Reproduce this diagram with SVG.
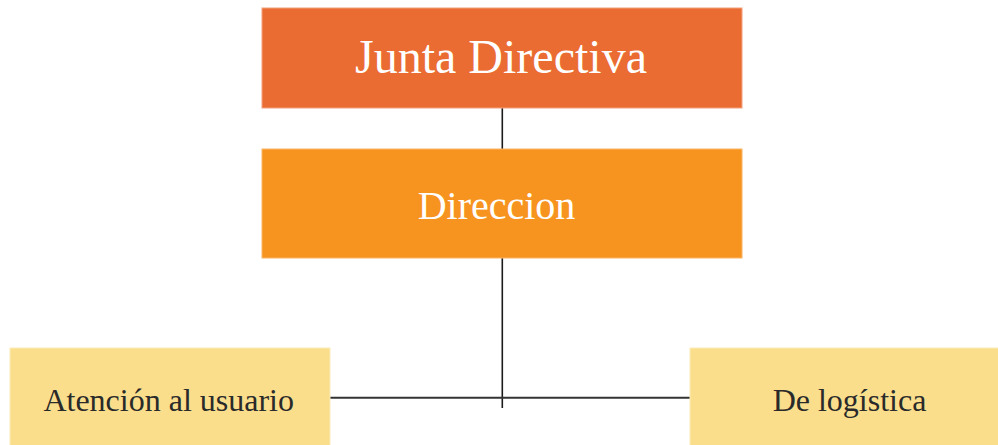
<svg xmlns="http://www.w3.org/2000/svg" width="998" height="445" viewBox="0 0 998 445">
<style>
.t{font-family:"Liberation Serif","Times New Roman",serif;text-anchor:middle}
.w{fill:#ffffff}
.d{fill:#2a2a2a}
.ln{stroke:#1a1a1a;stroke-width:1.6;fill:none}
</style>
<rect width="998" height="445" fill="#ffffff"/>
<g id="connectors">
<line class="ln" x1="502.3" y1="108" x2="502.3" y2="149"/>
<line class="ln" x1="502.3" y1="258" x2="502.3" y2="408"/>
<line class="ln" x1="330" y1="397.7" x2="690" y2="397.7" style="stroke:#333333;stroke-width:2"/>
</g>
<g id="junta">
<rect x="262" y="8" width="480" height="100" fill="#EA6C32" stroke="#F2A07A" stroke-width="1"/>
<text class="t w" x="501" y="72.7" font-size="48">Junta Directiva</text>
</g>
<g id="direccion">
<rect x="262" y="149" width="480" height="109" fill="#F79420" stroke="#FAB565" stroke-width="1"/>
<text class="t w" x="496.5" y="219" font-size="40">Direccion</text>
</g>
<g id="atencion">
<rect x="10" y="348" width="320" height="110" fill="#FADE8C" stroke="#FCEBB8" stroke-width="1"/>
<text class="t d" x="168.7" y="411" font-size="32">Atención al usuario</text>
</g>
<g id="logistica">
<rect x="690" y="348" width="320" height="110" fill="#FADE8C" stroke="#FCEBB8" stroke-width="1"/>
<text class="t d" x="849.5" y="411" font-size="32">De logística</text>
</g>
</svg>
